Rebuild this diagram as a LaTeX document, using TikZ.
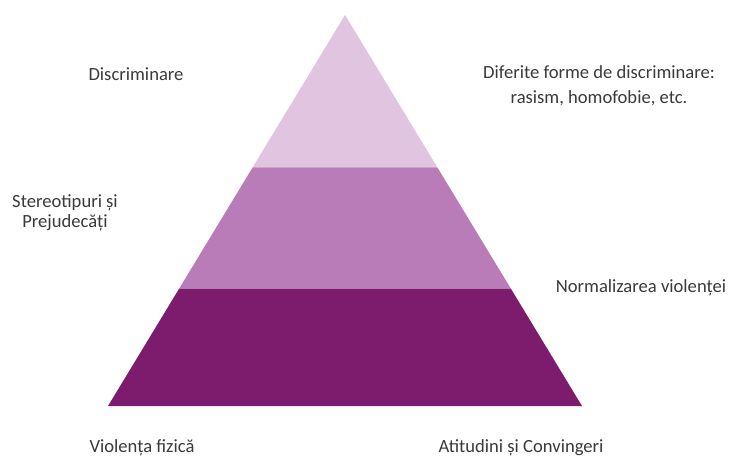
\documentclass[tikz,border=0pt]{standalone}
\usepackage{fontspec}
\setmainfont{Carlito}
\usetikzlibrary{calc}
\definecolor{topc}{HTML}{E0C4E0}
\definecolor{midc}{HTML}{BA7CB9}
\definecolor{botc}{HTML}{7D1B6D}
\definecolor{txtc}{HTML}{3A3A3A}
\begin{document}
\begin{tikzpicture}[x=1pt,y=-1pt,
  lbl/.style={text=txtc,font=\fontsize{18.6}{20}\selectfont,align=center,inner sep=0pt}]
\useasboundingbox (0,0) rectangle (729,457);
\fill[white] (0,0) rectangle (729,457);
% pyramid: apex (345,15), base (108,406)-(582,406)
\coordinate (A) at (345,15);
\coordinate (BL) at (108,406);
\coordinate (BR) at (582,406);
\coordinate (L1) at ($(A)!0.39!(BL)$);
\coordinate (R1) at ($(A)!0.39!(BR)$);
\coordinate (L2) at ($(A)!0.70!(BL)$);
\coordinate (R2) at ($(A)!0.70!(BR)$);
\fill[topc] (A) -- (L1) -- (R1) -- cycle;
\fill[midc] (L1) -- (L2) -- (R2) -- (R1) -- cycle;
\fill[botc] (L2) -- (BL) -- (BR) -- (R2) -- cycle;
% labels
\node[lbl] (disc) at (136,74) {Discriminare};
\node[lbl,font=\fontsize{18.6}{20.5}\selectfont] (ster) at (65,213) {Stereotipuri și\\Prejudecăți};
\node[lbl,font=\fontsize{18.6}{25}\selectfont] (forme) at (599,86) {Diferite forme de discriminare:\\rasism, homofobie, etc.};
\node[lbl] (norm) at (641,288) {Normalizarea violenței};
\node[lbl] (viol) at (142,448) {Violența fizică};
\node[lbl] (atit) at (521,448) {Atitudini și Convingeri};
\end{tikzpicture}
\end{document}
